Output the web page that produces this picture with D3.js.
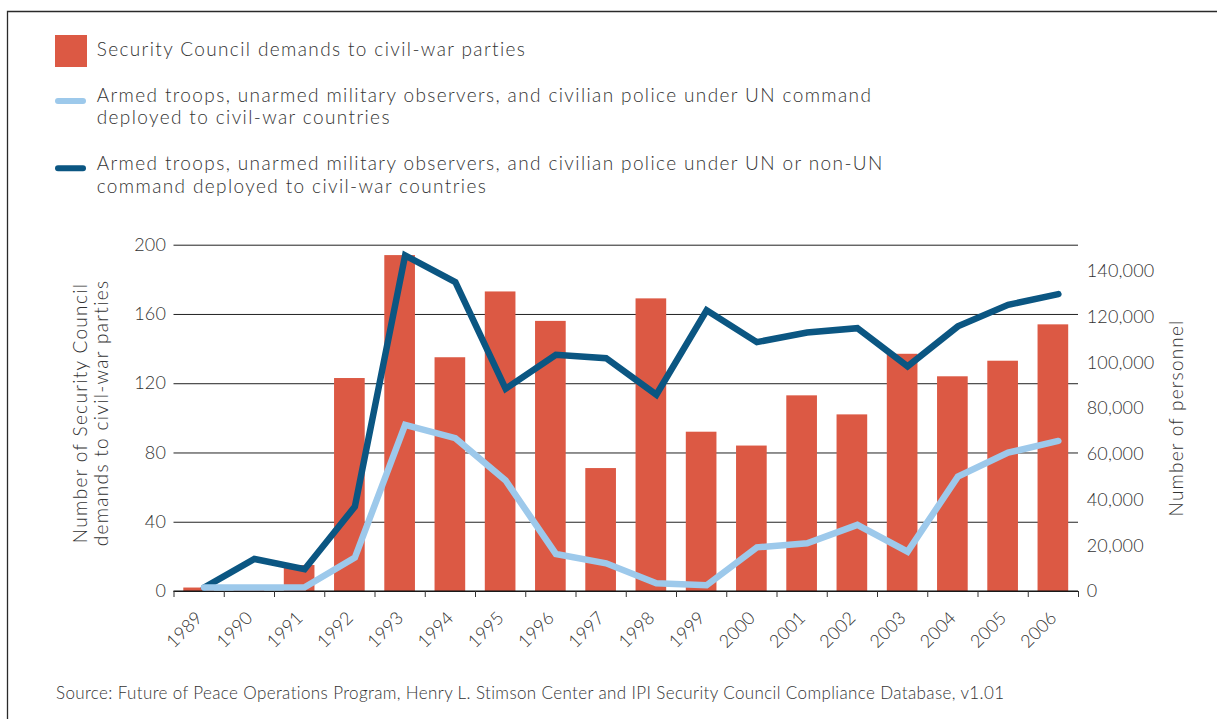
<!DOCTYPE html>
<html>
<head>
<meta charset="utf-8">
<script src="https://cdn.jsdelivr.net/npm/d3@7"></script>
<style>
  html, body { margin: 0; padding: 0; background: #fff; }
  svg { display: block; }
  text { font-family: Lato, "Open Sans", sans-serif; fill: #333; }
</style>
</head>
<body>
<svg id="chart" width="1217" height="719"></svg>
<script>
// ---------------- data ----------------
const years = ["1989","1990","1991","1992","1993","1994","1995","1996","1997","1998","1999","2000","2001","2002","2003","2004","2005","2006"];
const demands = [2, 2, 15, 123, 194, 135, 173, 156, 71, 169, 92, 84, 113, 102, 137, 124, 133, 154];
const personnelUN = [1500, 1500, 1600, 14600, 72600, 66800, 48300, 16200, 12100, 3400, 2500, 19100, 20900, 28900, 17200, 50000, 60500, 65600];
const personnelAll = [1500, 14000, 9500, 36900, 146700, 135000, 88400, 103300, 101800, 85800, 122700, 108800, 113000, 114900, 98200, 115700, 125100, 129800];
const leftTicks = [0, 40, 80, 120, 160, 200];
const rightTicks = [0, 20000, 40000, 60000, 80000, 100000, 120000, 140000];
const legendLabels = [
  ["Security Council demands to civil-war parties"],
  ["Armed troops, unarmed military observers, and civilian police under UN command", "deployed to civil-war countries"],
  ["Armed troops, unarmed military observers, and civilian police under UN or non-UN", "command deployed to civil-war countries"]
];
const leftTitle = ["Number of Security Council", "demands to civil-war parties"];
const rightTitle = "Number of personnel";
const sourceText = "Source: Future of Peace Operations Program, Henry L. Stimson Center and IPI Security Council Compliance Database, v1.01";

// ---------------- styles ----------------
const barColor = "#dc5944";
const lightColor = "#9dc9eb";
const darkColor = "#0b5682";
const gridColor = "#222";

// letter-spacing needed so that a text element reaches a target width
function spacingFor(node, target) {
  node.style.letterSpacing = "0px";
  const len = node.getComputedTextLength();
  const n = node.textContent.length;
  return (target - len) / n;
}

const svg = d3.select("#chart");
svg.append("rect").attr("width", 1217).attr("height", 719).attr("fill", "#fff");

// frame (top and left border)
svg.append("path")
  .attr("d", "M7.5,719 L7.5,11.5 L1217,11.5")
  .attr("fill", "none").attr("stroke", "#2a2a2a").attr("stroke-width", 1.3);

const plot = { left: 173.5, right: 1078, top: 244.7, bottom: 591 };
const W = plot.right - plot.left, H = plot.bottom - plot.top;
const g = svg.append("g").attr("transform", `translate(${plot.left},${plot.top})`);

const x = d3.scaleBand().domain(years).range([0, W]).padding(0);
const xBar = d3.scaleBand().domain(years).range([0, W]).paddingInner(0.39).paddingOuter(0.195);
const y = d3.scaleLinear().domain([0, 200]).range([H, 0]);
const yR = d3.scaleLinear().domain([0, 151400]).range([H, 0]);

const tickFont = sel => sel.attr("font-size", 18).attr("font-weight", 300).attr("fill", "#333").style("font-family", "Lato, sans-serif");

// gridlines + left axis
const ga = g.append("g").call(d3.axisLeft(y).tickValues(leftTicks).tickSize(-W).tickPadding(7.5));
ga.select(".domain").remove();
ga.selectAll(".tick line").attr("stroke", gridColor).attr("stroke-width", 1);
tickFont(ga.selectAll(".tick text"));

// bars
g.append("g").selectAll("rect").data(years).join("rect")
  .attr("x", d => xBar(d))
  .attr("width", xBar.bandwidth())
  .attr("y", (d, i) => y(demands[i]))
  .attr("height", (d, i) => H - y(demands[i]))
  .attr("fill", barColor);

// x axis: boundary ticks
const xb = d3.scaleLinear().domain([0, years.length]).range([0, W]);
const gx = g.append("g").attr("transform", `translate(0,${H})`)
  .call(d3.axisBottom(xb).tickValues(d3.range(years.length + 1)).tickSize(6).tickFormat(""));
gx.select(".domain").attr("stroke", "#111").attr("stroke-width", 1.2).attr("d", `M0,0H${W}`);
gx.selectAll(".tick line").attr("stroke", "#333");

// x labels
const gxl = g.append("g").attr("transform", `translate(0,${H})`)
  .call(d3.axisBottom(x).tickSize(0).tickPadding(0));
gxl.select(".domain").remove();
tickFont(gxl.selectAll(".tick text"))
  .attr("text-anchor", "end")
  .attr("dy", 0)
  .attr("transform", "translate(5,28) rotate(-45)");

// right axis labels
const gr = g.append("g").attr("transform", `translate(${W},0)`)
  .call(d3.axisRight(yR).tickValues(rightTicks).tickSize(0).tickPadding(8.7).tickFormat(d3.format(",")));
gr.select(".domain").remove();
tickFont(gr.selectAll(".tick text"));

// numeric label spacing, matched to the width of "140,000"
const topRight = gr.selectAll(".tick text").filter(d => d === 140000).node();
const numLS = Math.max(0, spacingFor(topRight, 67.7));
svg.selectAll(".tick text").style("letter-spacing", numLS + "px");

// lines
const lineOffset = x.bandwidth() / 2 + 5.5;
const lineGen = d3.line().x((d, i) => x(years[i]) + lineOffset).y(d => yR(d));
g.append("path").datum(personnelAll).attr("d", lineGen)
  .attr("fill", "none").attr("stroke", darkColor).attr("stroke-width", 6.5)
  .attr("stroke-linecap", "round").attr("stroke-linejoin", "miter");
g.append("path").datum(personnelUN).attr("d", lineGen)
  .attr("fill", "none").attr("stroke", lightColor).attr("stroke-width", 6.5)
  .attr("stroke-linecap", "round").attr("stroke-linejoin", "miter");

// axis titles
const ltg = svg.append("g").attr("transform", `translate(0,413) rotate(-90)`);
const ltNodes = leftTitle.map((t, i) => ltg.append("text")
  .attr("x", 0).attr("y", 87 + i * 21)
  .attr("text-anchor", "middle").attr("font-size", 19).attr("font-weight", 300)
  .text(t).node());
const ltLS = spacingFor(ltNodes[1], 267);
ltNodes.forEach(n => n.style.letterSpacing = ltLS + "px");

const rt = svg.append("text")
  .attr("transform", `translate(1183,418) rotate(-90)`)
  .attr("text-anchor", "middle").attr("font-size", 19).attr("font-weight", 300)
  .text(rightTitle);
const rtLS = spacingFor(rt.node(), 197);
rt.style("letter-spacing", rtLS + "px");

// legend
const leg = svg.append("g");
leg.append("rect").attr("x", 55).attr("y", 35).attr("width", 32).attr("height", 32).attr("fill", barColor);
leg.append("line").attr("x1", 58).attr("x2", 83).attr("y1", 101).attr("y2", 101)
  .attr("stroke", lightColor).attr("stroke-width", 6).attr("stroke-linecap", "round");
leg.append("line").attr("x1", 58).attr("x2", 83).attr("y1", 168.3).attr("y2", 168.3)
  .attr("stroke", darkColor).attr("stroke-width", 6).attr("stroke-linecap", "round");
const legBase = [56, 101.7, 170];
const legNodes = [];
legendLabels.forEach((lines, k) => {
  lines.forEach((s, i) => legNodes.push(leg.append("text")
    .attr("x", 96.7).attr("y", legBase[k] + i * 22.6)
    .attr("font-size", 19).attr("font-weight", 300).text(s).node()));
});
const legLS = spacingFor(legNodes[1], 775.6);
legNodes.forEach(n => n.style.letterSpacing = legLS + "px");

// source
const src = svg.append("text").attr("x", 56).attr("y", 699)
  .attr("font-size", 17).attr("font-weight", 300).style("font-family", "Lato, sans-serif")
  .attr("fill", "#333")
  .text(sourceText);
const srcLS = spacingFor(src.node(), 949);
src.style("letter-spacing", srcLS + "px");
</script>
</body>
</html>
